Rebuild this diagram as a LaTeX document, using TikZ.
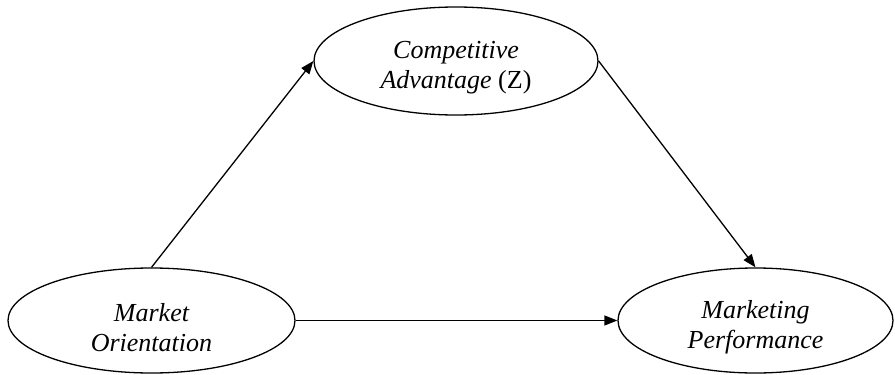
\documentclass[tikz,border=0pt]{standalone}
\usepackage{fontspec}
\setmainfont{Liberation Serif}
\usetikzlibrary{shapes.geometric,arrows.meta}
\tikzset{
  construct/.style={ellipse, draw, line width=1.3pt, inner sep=0pt},
  label text/.style={inner sep=0pt, align=center,
    font=\fontsize{26pt}{30pt}\selectfont\itshape},
  link/.style={line width=1.3pt, -{Triangle[length=13pt,width=10pt]}}
}
\begin{document}
\begin{tikzpicture}[x=1pt,y=-1pt]
\useasboundingbox (0,0) rectangle (895,375);
\node[construct, minimum width=284pt, minimum height=108pt] (ca) at (456,61) {};
\node[construct, minimum width=287pt, minimum height=105pt] (mo) at (151.5,320.5) {};
\node[construct, minimum width=275pt, minimum height=105pt] (mp) at (755.5,320.5) {};
\node[label text] (ca-t) at (456,68) {Competitive\\Advantage {\upshape(Z)}};
\node[label text] (mo-t) at (151.5,327.5) {Market\\Orientation};
\node[label text] (mp-t) at (755.5,327.5) {Marketing\\Performance};
\draw[link] (mo.north) -- (ca.west);
\draw[link] (ca.east) -- (mp.north);
\draw[link] (mo.east) -- (mp.west);
\end{tikzpicture}
\end{document}
